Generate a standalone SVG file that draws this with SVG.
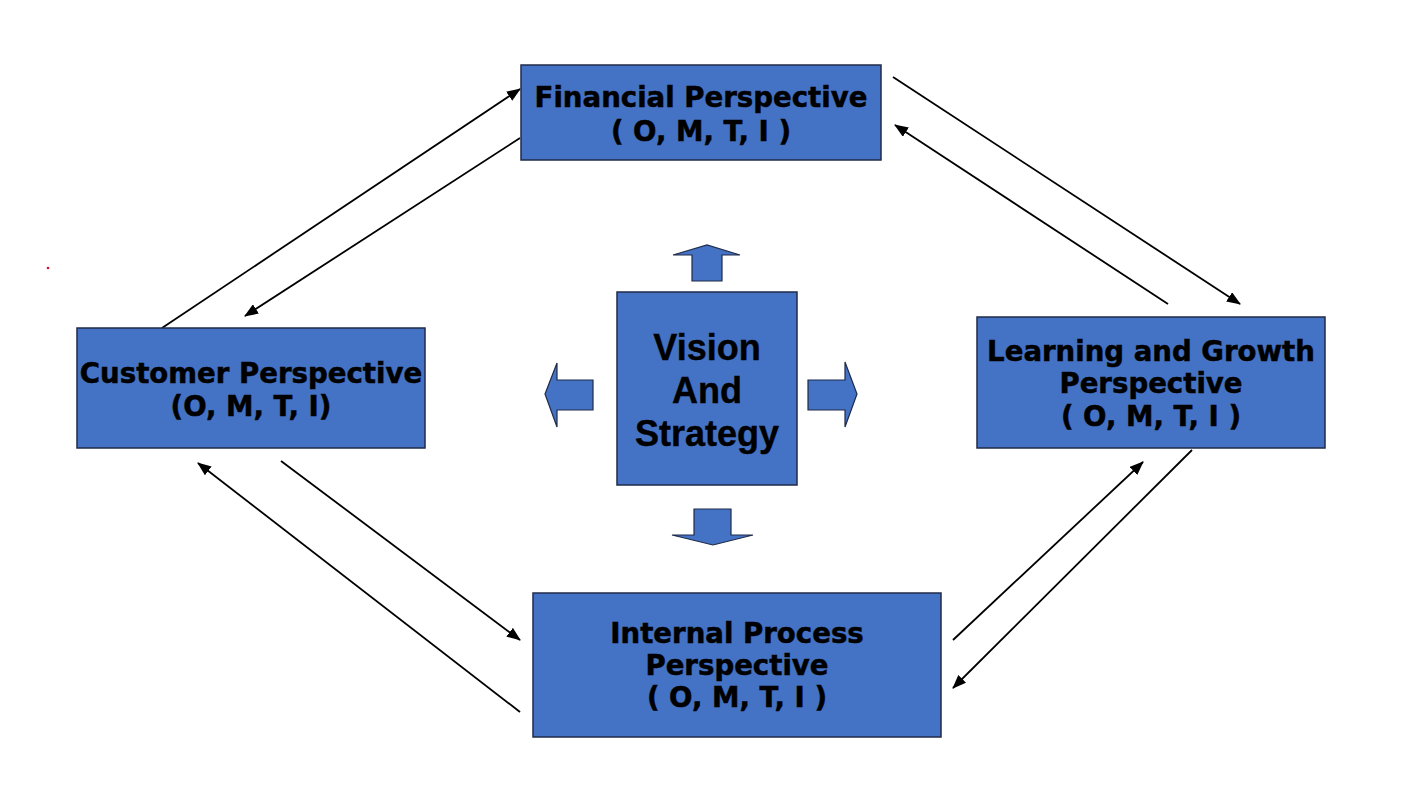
<svg xmlns="http://www.w3.org/2000/svg" width="1418" height="789" viewBox="0 0 1418 789">
<defs>
<style>
.box{fill:#4472C4;stroke:#1F2B48;stroke-width:1.5}
.lbl{font-family:"DejaVu Sans","Verdana",sans-serif;font-weight:bold;font-size:27.6px;fill:#000;stroke:#000;stroke-width:0.5;text-anchor:middle}
.vlbl{font-family:"Liberation Sans",Arial,sans-serif;font-weight:bold;font-size:36px;fill:#000;stroke:#000;stroke-width:0.4;text-anchor:middle}
.conn{stroke:#000;stroke-width:1.8;fill:none;marker-end:url(#ah)}
.barrow{fill:#4472C4;stroke:#1F2B48;stroke-width:1.2}
</style>
<marker id="ah" viewBox="0 0 14 11" refX="13" refY="5.5" markerWidth="14" markerHeight="11" markerUnits="userSpaceOnUse" orient="auto">
<path d="M0,0 L14,5.5 L0,11 z" fill="#000"/>
</marker>
</defs>
<rect width="1418" height="789" fill="#fff"/>
<circle cx="48" cy="268" r="1.3" fill="#d0103a"/>
<g id="connectors">
<line class="conn" x1="162" y1="328" x2="520" y2="89"/>
<line class="conn" x1="520" y1="138" x2="245" y2="316"/>
<line class="conn" x1="893" y1="77" x2="1240" y2="304"/>
<line class="conn" x1="1168" y1="304" x2="895" y2="125"/>
<line class="conn" x1="953" y1="640" x2="1143" y2="462"/>
<line class="conn" x1="1192" y1="450" x2="953" y2="688"/>
<line class="conn" x1="281" y1="461" x2="520" y2="640"/>
<line class="conn" x1="520" y1="712" x2="198" y2="463"/>
</g>
<g id="financial">
<rect class="box" x="521" y="65" width="360" height="95"/>
<text class="lbl" x="701" y="107">Financial Perspective</text>
<text class="lbl" x="701" y="141">( O, M, T, I )</text>
</g>
<g id="customer">
<rect class="box" x="77" y="328" width="348" height="120"/>
<text class="lbl" x="251" y="383">Customer Perspective</text>
<text class="lbl" x="251" y="416">(O, M, T, I)</text>
</g>
<g id="learning">
<rect class="box" x="977" y="317" width="348" height="131"/>
<text class="lbl" x="1151" y="361">Learning and Growth</text>
<text class="lbl" x="1151" y="393">Perspective</text>
<text class="lbl" x="1151" y="426">( O, M, T, I )</text>
</g>
<g id="internal">
<rect class="box" x="533" y="593" width="408" height="144"/>
<text class="lbl" x="737" y="643">Internal Process</text>
<text class="lbl" x="737" y="675">Perspective</text>
<text class="lbl" x="737" y="707">( O, M, T, I )</text>
</g>
<g id="vision">
<rect class="box" x="617" y="292" width="180" height="193"/>
<text class="vlbl" x="707" y="360">Vision</text>
<text class="vlbl" x="707" y="403">And</text>
<text class="vlbl" x="707" y="446">Strategy</text>
</g>
<g id="block-arrows">
<polygon class="barrow" points="692,281 692,255 673,255 707,245 740,255 722,255 722,281"/>
<polygon class="barrow" points="694,509 731,509 731,535 753,535 713,545 672,535 694,535"/>
<polygon class="barrow" points="593,380 557,380 557,363 545,394 557,427 557,410 593,410"/>
<polygon class="barrow" points="808,380 845,380 845,362 857,394 845,427 845,410 808,410"/>
</g>
</svg>
